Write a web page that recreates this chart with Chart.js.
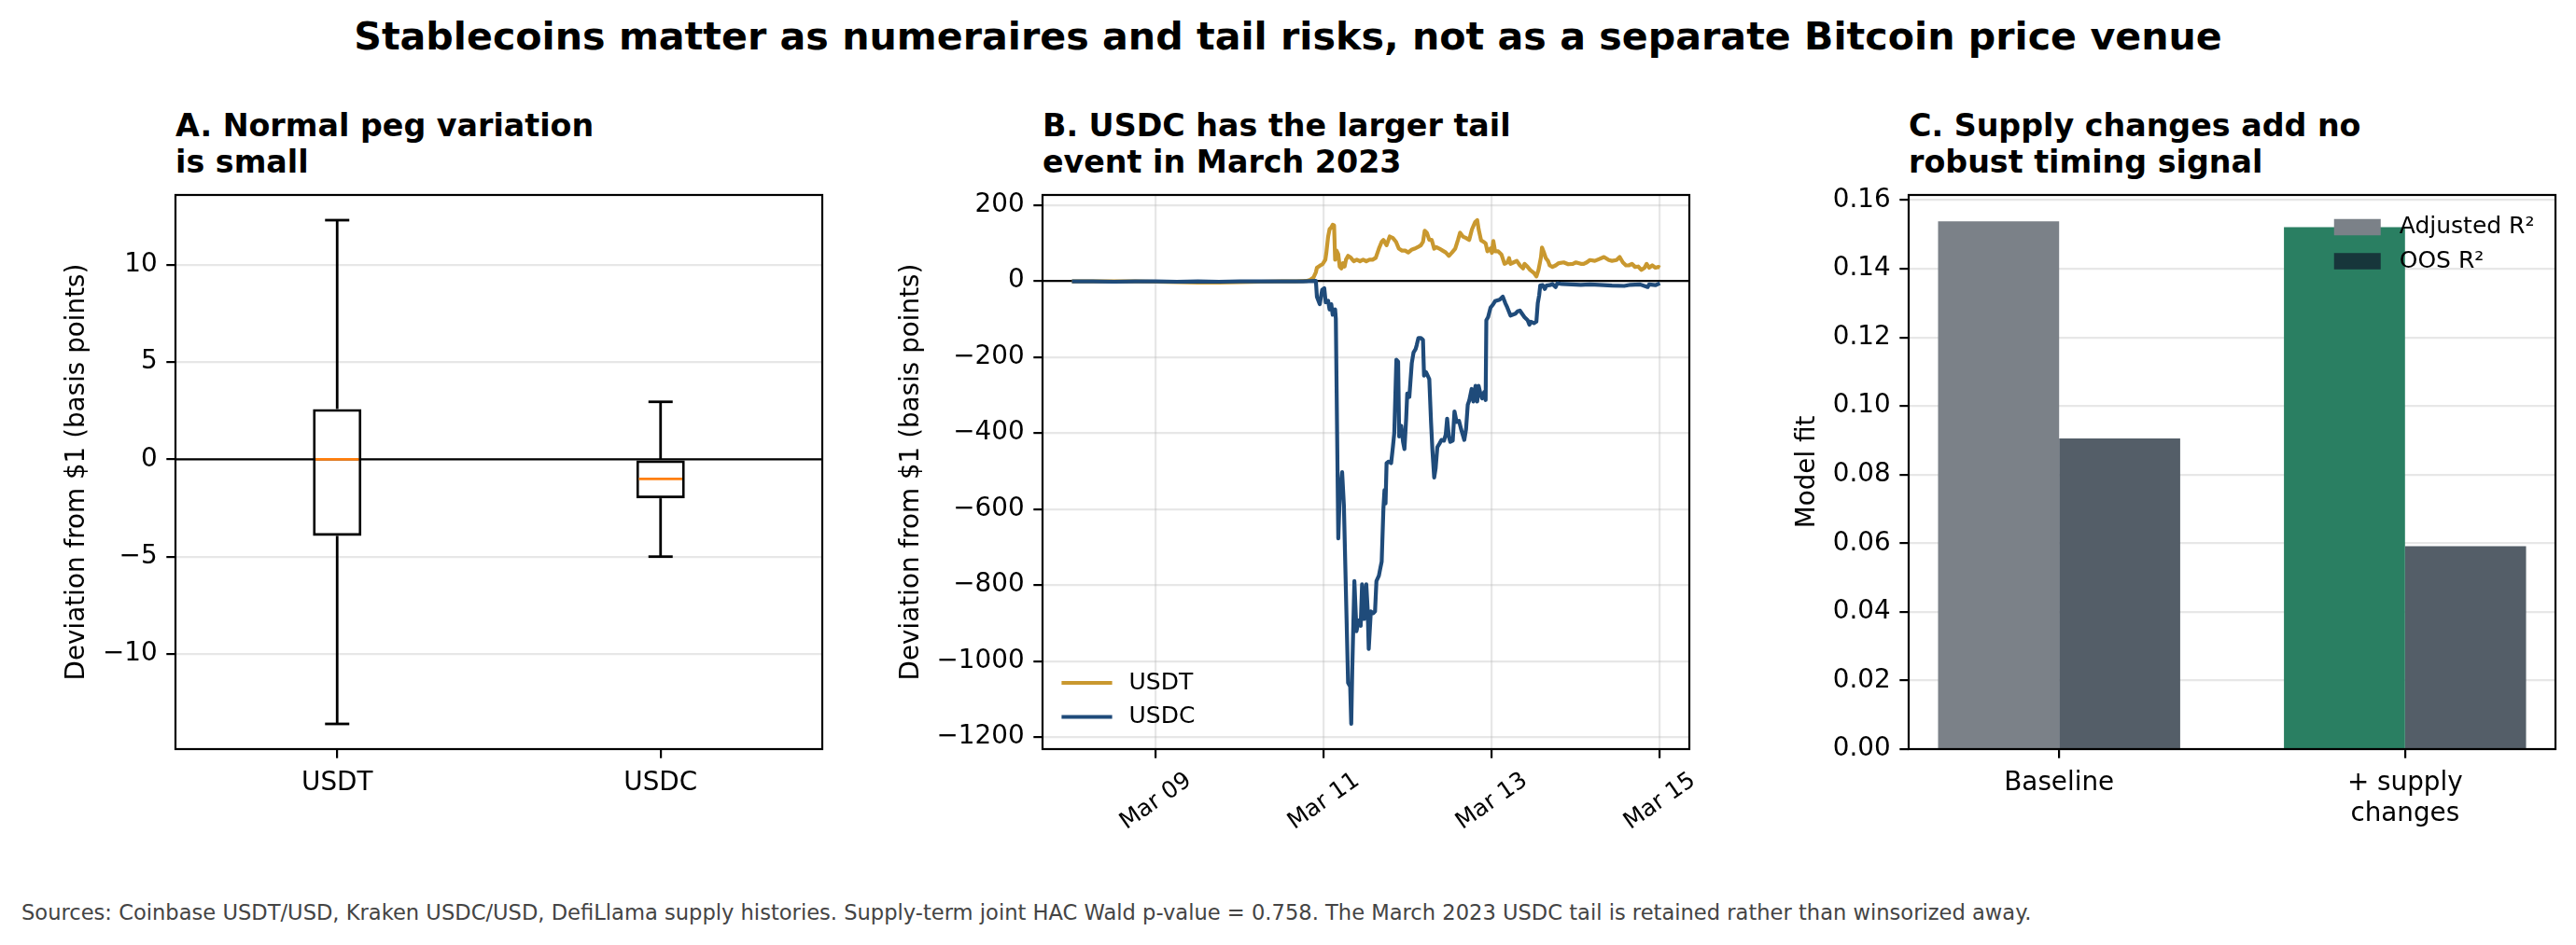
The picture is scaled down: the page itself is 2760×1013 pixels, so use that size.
<!DOCTYPE html>
<html>
<head>
<meta charset="utf-8">
<script src="https://cdn.jsdelivr.net/npm/chart.js@4.4.1/dist/chart.umd.min.js"></script>
<style>
html,body{margin:0;padding:0;background:#fff;}
body{width:2760px;height:1013px;position:relative;overflow:hidden;font-family:'DejaVu Sans',sans-serif;}
canvas{position:absolute;}
.t{position:absolute;white-space:nowrap;color:#000;margin:0;}
</style>
</head>
<body>
<div class="t" style="left:0;width:2760px;text-align:center;top:14.05px;font-size:41.2px;line-height:50px;font-weight:bold;">Stablecoins matter as numeraires and tail risks, not as a separate Bitcoin price venue</div>
<div class="t" style="left:188px;top:116.2px;font-size:33.3px;line-height:38.5px;font-weight:bold;">A. Normal peg variation<br>is small</div>
<div class="t" style="left:1117px;top:116.2px;font-size:33.3px;line-height:38.5px;font-weight:bold;">B. USDC has the larger tail<br>event in March 2023</div>
<div class="t" style="left:2045px;top:116.2px;font-size:33.3px;line-height:38.5px;font-weight:bold;">C. Supply changes add no<br>robust timing signal</div>
<div class="t" style="left:23px;top:965.2px;font-size:22.6px;line-height:26px;color:#444;">Sources: Coinbase USDT/USD, Kraken USDC/USD, DefiLlama supply histories. Supply-term joint HAC Wald p-value = 0.758. The March 2023 USDC tail is retained rather than winsorized away.</div>

<canvas id="cA" width="845" height="744" style="left:66px;top:169px;"></canvas>
<canvas id="cB" width="880" height="744" style="left:960px;top:169px;"></canvas>
<canvas id="cC" width="833" height="744" style="left:1920px;top:169px;"></canvas>

<script>
// ---------------- DATA ----------------
// Panel A: peg deviation distribution (basis points)
const boxCategories = ['USDT', 'USDC'];
const boxWhiskerLow = [-13.6, -5.0];
const boxQ1 = [-3.93, -2.0];
const boxMedian = [0.0, -1.0];
const boxQ3 = [2.59, 0.0];
const boxWhiskerHigh = [12.3, 2.96];
const yTicksA = [-10, -5, 0, 5, 10];

// Panel B: hours since 2023-03-08 00:00 and deviation (basis points)
const usdtHours = [0, 6, 12, 18, 24, 30, 36, 42, 48, 54, 60, 64, 67, 68.1, 69.0, 69.7, 70.0, 70.8, 71.6, 72.4, 72.7, 73.2, 73.6, 74.1, 74.5, 74.9, 75.2, 75.6, 76.1, 76.5, 77.0, 77.4, 77.9, 78.3, 78.9, 79.7, 80.5, 81.4, 82.3, 83.2, 84.1, 85.0, 85.9, 86.8, 87.7, 88.5, 89.0, 89.9, 90.8, 91.7, 92.6, 93.4, 94.3, 95.2, 96.1, 97.0, 97.9, 98.8, 99.7, 100.3, 100.8, 101.4, 102.1, 102.8, 103.5, 104.1, 105.0, 105.9, 106.8, 107.7, 108.6, 109.5, 110.3, 110.9, 111.7, 112.6, 113.5, 114.3, 115.2, 115.8, 116.2, 116.9, 117.6, 118.2, 118.7, 119.6, 120.0, 120.4, 120.9, 121.8, 122.7, 123.6, 124.4, 124.9, 125.3, 126.2, 127.1, 128.0, 128.9, 129.3, 130.2, 130.9, 132.0, 132.7, 133.3, 134.0, 134.3, 134.9, 135.4, 136.0, 136.5, 137.3, 138.2, 139.1, 140.5, 141.8, 143.1, 144.0, 145.4, 146.2, 147.1, 148.0, 149.4, 150.7, 152.0, 153.4, 154.3, 155.6, 156.5, 157.4, 158.3, 159.1, 160.0, 160.9, 161.8, 162.7, 163.6, 164.2, 164.9, 165.8, 166.7, 167.6, 168];
const usdtBps = [-1, -1, -1, -1, -2, -3, -4, -4, -3, -2, -1, -1, 0, 3, 9, 23, 35, 40, 44, 56, 75, 117, 136, 141, 148, 146, 56, 80, 70, 38, 33, 47, 38, 56, 66, 61, 52, 56, 52, 56, 52, 56, 56, 61, 85, 103, 108, 94, 117, 113, 103, 85, 80, 80, 75, 82, 85, 89, 94, 103, 132, 127, 108, 108, 85, 89, 85, 80, 75, 66, 75, 85, 108, 127, 117, 113, 108, 136, 155, 160, 136, 107, 103, 99, 78, 86, 74, 105, 78, 78, 70, 45, 49, 60, 45, 49, 53, 41, 33, 45, 37, 29, 21, 12, 29, 62, 88, 74, 60, 53, 41, 37, 41, 47, 49, 44, 45, 49, 45, 45, 49, 55, 53, 58, 63, 55, 53, 55, 63, 49, 41, 41, 45, 37, 38, 29, 35, 45, 35, 41, 35, 37, 35];
const usdcHours = [0, 6, 12, 18, 24, 30, 36, 42, 48, 54, 60, 66, 69.7, 70.0, 70.8, 71.5, 72.1, 72.5, 73.2, 73.6, 74.1, 74.5, 75.2, 75.4, 76.1, 76.5, 77.2, 77.7, 78.9, 79.5, 79.8, 80.1, 80.7, 81.3, 81.9, 82.5, 82.9, 83.5, 84.1, 84.5, 84.8, 85.4, 86.1, 86.6, 87.0, 87.7, 88.1, 88.5, 89.0, 89.3, 89.6, 89.9, 90.5, 91.2, 91.7, 92.1, 92.7, 93.2, 93.5, 94.1, 94.6, 95.0, 95.5, 95.8, 96.4, 97.1, 97.6, 98.2, 98.5, 99.0, 99.7, 100.3, 100.6, 101.2, 102.1, 102.6, 103.0, 103.5, 103.9, 104.4, 105.0, 105.6, 106.3, 106.8, 107.2, 107.7, 108.1, 108.8, 109.3, 109.9, 110.6, 111.2, 112.1, 112.6, 113.1, 113.5, 114.2, 114.7, 115.3, 115.8, 116.2, 116.7, 117.2, 117.8, 118.2, 118.4, 118.9, 119.6, 120.3, 120.9, 122.2, 123.1, 123.8, 124.4, 125.3, 126.7, 127.3, 128.0, 128.6, 129.3, 130.2, 130.7, 131.1, 132.0, 132.7, 133.1, 133.5, 133.8, 134.5, 135.1, 135.6, 136.5, 137.3, 138.2, 138.7, 140.0, 142.7, 145.4, 148.0, 150.7, 154.3, 157.8, 159.6, 162.3, 164.5, 164.9, 166.7, 168];
const usdcBps = [-1, -1, -2, -1, -1, -2, -1, -2, -1, -1, -1, -1, 0, -42, -61, -23, -19, -56, -52, -75, -61, -89, -75, -99, -677, -569, -503, -590, -1057, -1067, -1165, -1020, -789, -921, -893, -907, -798, -889, -798, -865, -968, -869, -874, -869, -789, -775, -756, -738, -597, -550, -585, -479, -475, -479, -437, -400, -207, -212, -409, -381, -423, -442, -362, -296, -305, -216, -188, -179, -169, -150, -150, -155, -249, -240, -258, -371, -446, -517, -494, -437, -428, -418, -420, -404, -362, -409, -423, -420, -343, -371, -368, -390, -418, -390, -325, -315, -284, -317, -276, -317, -276, -296, -309, -292, -313, -103, -95, -70, -62, -53, -49, -41, -58, -70, -91, -86, -80, -78, -86, -95, -103, -115, -107, -111, -107, -58, -37, -12, -11, -21, -12, -11, -8, -16, -6, -8, -9, -10, -9, -10, -12, -13, -10, -9, -16, -9, -11, -6];
const dateTickHours = [24, 72, 120, 168];
const dateTickLabels = ['Mar 09', 'Mar 11', 'Mar 13', 'Mar 15'];
const yTicksB = [-1200, -1000, -800, -600, -400, -200, 0, 200];

// Panel C: model fit
const fitCategories = ['Baseline', ['+ supply', 'changes']];
const adjustedR2 = [0.1538, 0.1521];
const oosR2 = [0.0905, 0.0591];
const yTicksC = [0, 0.02, 0.04, 0.06, 0.08, 0.10, 0.12, 0.14, 0.16];

// ---------------- STYLE ----------------
const FONT = "'DejaVu Sans', sans-serif";
Chart.defaults.font.family = FONT;
Chart.defaults.color = '#000';
const GRID = 'rgba(176,176,176,0.3)';
const TICK_FS = 27.8, LABEL_FS = 27.8, LEG_FS = 25;
const LW = 2.2, TICKLEN = 9.7, SERIES_LW = 4.2;
const BOX_WIDTH = 0.15, CAP_WIDTH = 0.075, GROUP_WIDTH = 0.7;
const USDT_COLOR = '#c9982f', USDC_COLOR = '#1f4b7a';
const ADJ_COLORS = ['#7b8188', '#2a7f62'], OOS_COLOR = '#545e68';
const LEGEND_C_COLORS = ['#7b8188', '#17363b'];

const fmtInt = v => (v < 0 ? '\u2212' + Math.abs(v) : String(v));
const fmt2 = v => (v < 0 ? '\u2212' : '') + Math.abs(v).toFixed(2);

function yScale(min, max, ticks, fmt, padL, title, z) {
  return {
    type: 'linear', min, max, z: z || 0,
    afterBuildTicks: s => { s.ticks = ticks.map(v => ({ value: v })); },
    afterFit: s => { s.width = padL; },
    ticks: { font: { size: TICK_FS }, color: '#000', padding: 9.7, callback: v => fmt(v) },
    grid: { color: GRID, lineWidth: LW, tickColor: '#000', tickWidth: LW, tickLength: TICKLEN, drawOnChartArea: true },
    border: { display: false },
    title: { display: true, text: title, font: { size: LABEL_FS }, color: '#000', padding: { top: 0, bottom: 0 } }
  };
}
function xScale(min, max, ticks, labelFn, showLabels, gridOn, padB) {
  return {
    type: 'linear', min, max, offset: false,
    afterBuildTicks: s => { s.ticks = ticks.map(v => ({ value: v })); },
    afterFit: s => { s.height = padB; },
    ticks: { display: showLabels, font: { size: TICK_FS }, color: '#000', padding: 10.5, maxRotation: 0, minRotation: 0, autoSkip: false, callback: v => labelFn(v) },
    grid: { offset: false, color: GRID, lineWidth: LW, tickColor: '#000', tickWidth: LW, tickLength: TICKLEN, drawOnChartArea: gridOn },
    border: { display: false }
  };
}

const framePlugin = {
  id: 'frame',
  afterDraw(chart) {
    const { ctx, chartArea: a } = chart;
    ctx.save(); ctx.strokeStyle = '#000'; ctx.lineWidth = LW;
    ctx.strokeRect(a.left, a.top, a.right - a.left, a.bottom - a.top);
    ctx.restore();
  }
};
const zeroLinePlugin = {
  id: 'zeroLine',
  beforeDatasetsDraw(chart) {
    const { ctx, chartArea: a, scales: { y } } = chart;
    const py = y.getPixelForValue(0);
    ctx.save(); ctx.strokeStyle = '#000'; ctx.lineWidth = LW;
    ctx.beginPath(); ctx.moveTo(a.left, py); ctx.lineTo(a.right, py); ctx.stroke();
    ctx.restore();
  }
};
function seg(ctx, x1, y1, x2, y2) { ctx.beginPath(); ctx.moveTo(x1, y1); ctx.lineTo(x2, y2); ctx.stroke(); }
const whiskerPlugin = {
  id: 'whiskers',
  afterDatasetsDraw(chart) {
    const { ctx, scales: { x, y } } = chart;
    ctx.save(); ctx.lineWidth = 2.8; ctx.lineCap = 'butt';
    boxCategories.forEach((c, i) => {
      const pos = i + 1;
      const px = x.getPixelForValue(pos);
      const capHalf = x.getPixelForValue(pos + CAP_WIDTH / 2) - px;
      const boxHalf = x.getPixelForValue(pos + BOX_WIDTH / 2) - px;
      ctx.strokeStyle = '#000';
      seg(ctx, px, y.getPixelForValue(boxQ3[i]), px, y.getPixelForValue(boxWhiskerHigh[i]));
      seg(ctx, px, y.getPixelForValue(boxQ1[i]), px, y.getPixelForValue(boxWhiskerLow[i]));
      seg(ctx, px - capHalf, y.getPixelForValue(boxWhiskerHigh[i]), px + capHalf, y.getPixelForValue(boxWhiskerHigh[i]));
      seg(ctx, px - capHalf, y.getPixelForValue(boxWhiskerLow[i]), px + capHalf, y.getPixelForValue(boxWhiskerLow[i]));
      ctx.strokeStyle = '#ff7f0e';
      seg(ctx, px - boxHalf + 2.8, y.getPixelForValue(boxMedian[i]), px + boxHalf - 2.8, y.getPixelForValue(boxMedian[i]));
    });
    ctx.restore();
  }
};
const dateLabelPlugin = {
  id: 'dateLabels',
  afterDraw(chart) {
    const { ctx, chartArea: a, scales: { x } } = chart;
    const fs = 25, th = 35 * Math.PI / 180, lh = 1.164 * fs;
    ctx.save(); ctx.font = fs + 'px ' + FONT; ctx.fillStyle = '#000';
    ctx.textAlign = 'center'; ctx.textBaseline = 'middle';
    dateTickHours.forEach((h, i) => {
      const px = x.getPixelForValue(h);
      const w = ctx.measureText(dateTickLabels[i]).width;
      const bh = w * Math.sin(th) + lh * Math.cos(th);
      const cy = a.bottom + TICKLEN + 9.7 + bh / 2;
      ctx.save(); ctx.translate(px, cy); ctx.rotate(-th);
      ctx.fillText(dateTickLabels[i], 0, 0); ctx.restore();
    });
    ctx.restore();
  }
};
const insideLegend = {
  id: 'insideLegend',
  afterDraw(chart, args, opts) {
    if (!opts || !opts.corner) return;
    const { ctx, chartArea: a } = chart;
    const fs = LEG_FS;
    const items = chart.data.datasets.map((d, i) => ({ label: d.label, color: opts.colors[i] }));
    ctx.save(); ctx.font = fs + 'px ' + FONT;
    const textW = Math.max(...items.map(it => ctx.measureText(it.label).width));
    const rowH = 0.96 * fs, gap = 0.5 * fs, handleW = 2 * fs, pad = 0.9 * fs, hp = 0.8 * fs;
    const totalH = items.length * rowH + (items.length - 1) * gap;
    let x0, y0;
    if (opts.corner === 'lower left') { x0 = a.left + pad; y0 = a.bottom - pad - totalH; }
    else { x0 = a.right - pad - textW - hp - handleW; y0 = a.top + pad; }
    items.forEach((it, i) => {
      const cy = y0 + i * (rowH + gap) + rowH / 2;
      if (opts.swatch === 'line') {
        ctx.strokeStyle = it.color; ctx.lineWidth = SERIES_LW; ctx.lineCap = 'square';
        seg(ctx, x0, cy, x0 + handleW, cy);
      } else {
        ctx.fillStyle = it.color; ctx.fillRect(x0, cy - 0.35 * fs, handleW, 0.7 * fs);
      }
      ctx.fillStyle = '#000'; ctx.textAlign = 'left'; ctx.textBaseline = 'middle';
      ctx.fillText(it.label, x0 + handleW + hp, cy);
    });
    ctx.restore();
  }
};

function margins(lo, hi) { const r = hi - lo; return [lo - 0.05 * r, hi + 0.05 * r]; }

// ---------------- PANEL A ----------------
const [aMin, aMax] = margins(Math.min(...boxWhiskerLow), Math.max(...boxWhiskerHigh));
new Chart(document.getElementById('cA'), {
  type: 'bar',
  data: {
    datasets: [{
      label: 'IQR',
      data: boxCategories.map((c, i) => ({ x: i + 1, y: [boxQ1[i], boxQ3[i]] })),
      backgroundColor: 'rgba(0,0,0,0)', borderColor: '#000', borderWidth: 2.8, borderSkipped: false,
      barPercentage: BOX_WIDTH, categoryPercentage: 1
    }]
  },
  options: {
    responsive: false, animation: false,
    layout: { padding: { top: 40, right: 30, left: 0, bottom: 0 } },
    plugins: { legend: { display: false }, tooltip: { enabled: false } },
    scales: {
      x: xScale(0.5, boxCategories.length + 0.5, boxCategories.map((c, i) => i + 1), v => boxCategories[Math.round(v) - 1], true, false, 110),
      y: yScale(aMin, aMax, yTicksA, fmtInt, 122, 'Deviation from $1 (basis points)')
    }
  },
  plugins: [zeroLinePlugin, whiskerPlugin, framePlugin]
});

// ---------------- PANEL B ----------------
const [bxMin, bxMax] = margins(Math.min(...usdtHours, ...usdcHours), Math.max(...usdtHours, ...usdcHours));
const [byMin, byMax] = margins(Math.min(...usdtBps, ...usdcBps), Math.max(...usdtBps, ...usdcBps));
new Chart(document.getElementById('cB'), {
  type: 'line',
  data: {
    datasets: [
      { label: 'USDT', data: usdtHours.map((h, i) => ({ x: h, y: usdtBps[i] })), borderColor: USDT_COLOR, borderWidth: SERIES_LW, pointRadius: 0, tension: 0, fill: false, order: 1, borderJoinStyle: 'round' },
      { label: 'USDC', data: usdcHours.map((h, i) => ({ x: h, y: usdcBps[i] })), borderColor: USDC_COLOR, borderWidth: SERIES_LW, pointRadius: 0, tension: 0, fill: false, order: 0, borderJoinStyle: 'round' }
    ]
  },
  options: {
    responsive: false, animation: false,
    layout: { padding: { top: 40, right: 30, left: 0, bottom: 0 } },
    plugins: { legend: { display: false }, tooltip: { enabled: false },
      insideLegend: { corner: 'lower left', swatch: 'line', colors: [USDT_COLOR, USDC_COLOR] } },
    scales: {
      x: xScale(bxMin, bxMax, dateTickHours, v => '', false, true, 110),
      y: yScale(byMin, byMax, yTicksB, fmtInt, 157, 'Deviation from $1 (basis points)')
    }
  },
  plugins: [zeroLinePlugin, framePlugin, dateLabelPlugin, insideLegend]
});

// ---------------- PANEL C ----------------
const cHalf = GROUP_WIDTH / 2;
const [cxMin, cxMax] = margins(-cHalf, fitCategories.length - 1 + cHalf);
new Chart(document.getElementById('cC'), {
  type: 'bar',
  data: {
    datasets: [
      { label: 'Adjusted R\u00B2', data: adjustedR2.map((v, i) => ({ x: i, y: v })), backgroundColor: ADJ_COLORS, borderWidth: 0, categoryPercentage: GROUP_WIDTH, barPercentage: 1 },
      { label: 'OOS R\u00B2', data: oosR2.map((v, i) => ({ x: i, y: v })), backgroundColor: OOS_COLOR, borderWidth: 0, categoryPercentage: GROUP_WIDTH, barPercentage: 1 }
    ]
  },
  options: {
    responsive: false, animation: false,
    layout: { padding: { top: 40, right: 15, left: 0, bottom: 0 } },
    plugins: { legend: { display: false }, tooltip: { enabled: false },
      insideLegend: { corner: 'upper right', swatch: 'rect', colors: LEGEND_C_COLORS } },
    scales: {
      x: xScale(cxMin, cxMax, fitCategories.map((c, i) => i), v => fitCategories[Math.round(v)], true, false, 110),
      y: yScale(0, Math.max(...adjustedR2, ...oosR2) * 1.05, yTicksC, fmt2, 125, 'Model fit', 1)
    }
  },
  plugins: [framePlugin, insideLegend]
});
</script>
</body>
</html>
